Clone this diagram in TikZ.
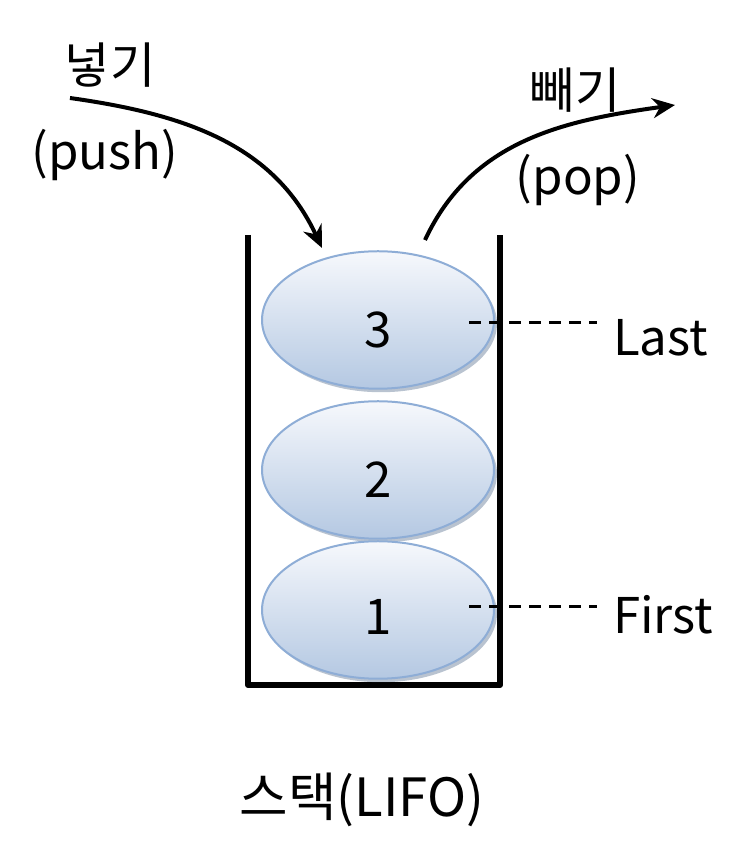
\documentclass[tikz,border=0pt]{standalone}
\usepackage{fontspec}
\setmainfont{Noto Sans CJK KR}
\usetikzlibrary{shapes.geometric,arrows.meta,shadows}
\definecolor{itemedge}{HTML}{8EADD6}
\definecolor{itemtop}{HTML}{F6F8FC}
\definecolor{itembot}{HTML}{B4C8E2}
\tikzset{
	item/.style={ellipse, minimum width=4.64cm, minimum height=2.75cm, draw=itemedge, line width=0.4mm, top color=itemtop, bottom color=itembot, drop shadow={shadow xshift=0.06cm, shadow yshift=-0.07cm, fill=itemedge!70!black, opacity=0.45}},
	lbl/.style={font=\fontsize{28}{34}\selectfont},
	guide/.style={dashed, dash pattern=on 0.24cm off 0.16cm, line width=0.6mm},
	wall/.style={line width=1.2mm, line join=round},
	flow/.style={line width=0.8mm, -{Stealth[length=0.45cm, width=0.4cm]}}
}

\begin{document}
\begin{tikzpicture}
			%%%%% START %%%%%
			\useasboundingbox (0, 0) rectangle (15, 17);
			
			\draw[wall] (4.96, 12.3) -- (4.96, 3.3) -- (10, 3.3) -- (10, 12.3);
			
			\node[item] (e3) at (7.56, 10.6) {};
			\node[item] (e2) at (7.56, 7.6) {};
			\node[item] (e1) at (7.56, 4.8) {};
			\node[lbl] (n3) at ([yshift=-0.2cm]e3.center) {3};
			\node[lbl] (n2) at ([yshift=-0.2cm]e2.center) {2};
			\node[lbl] (n1) at ([yshift=-0.14cm]e1.center) {1};
			
			\node[lbl, anchor=west] (last) at (12.14, 10.24) {Last};
			\node[lbl, anchor=west] (first) at (12.14, 4.7) {First};
			\draw[guide] ([shift={(-0.52, -0.06)}]e3.east) -- ([shift={(-0.2, -0.06)}]e3.east -| last.west);
			\draw[guide] ([shift={(-0.52, 0.06)}]e1.east) -- ([shift={(-0.2, 0.06)}]e1.east -| first.west);
			
			\node[lbl] (pushko) at (2.2, 15.7) {넣기};
			\node[lbl] (pushen) at (2.1, 13.9) {(push)};
			\coordinate (pushstart) at (1.4, 15.04);
			\coordinate (pushend) at (6.44, 12.04);
			\draw[flow] (pushstart) to[out=-8, in=115] (pushend);
			
			\node[lbl] (popko) at (11.5, 15.2) {빼기};
			\node[lbl] (popen) at (11.56, 13.4) {(pop)};
			\coordinate (popstart) at (8.5, 12.2);
			\coordinate (popend) at (13.5, 14.9);
			\draw[flow] (popstart) to[out=65, in=188] (popend);
			
			\node[lbl, font=\fontsize{30}{36}\selectfont] (title) at (7.24, 1.0) {스택(LIFO)};
			%%%%% END %%%%%
\end{tikzpicture}
\end{document}
